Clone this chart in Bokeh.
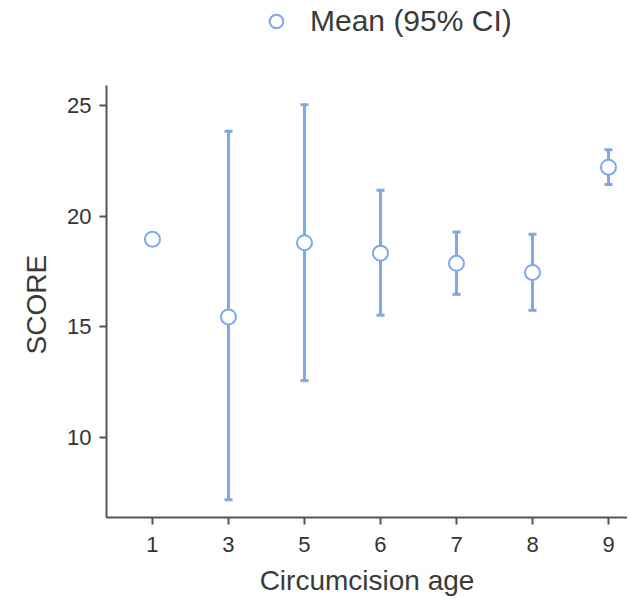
from bokeh.plotting import figure
from bokeh.models import (ColumnDataSource, Whisker, TeeHead, Range1d, FixedTicker,
                          Legend, LegendItem, Title)
from bokeh.embed import file_html
from bokeh.resources import INLINE

# ---- data ----
ages = ["1", "3", "5", "6", "7", "8", "9"]
means = [18.96, 15.45, 18.8, 18.33, 17.87, 17.46, 22.21]
lower = [None, 7.2, 12.58, 15.53, 16.47, 15.75, 21.43]
upper = [None, 23.83, 25.03, 21.17, 19.28, 19.18, 22.99]
y_ticks = [10, 15, 20, 25]

BLUE = "#7ea8ea"
TXT = "#333333"
AX = "#555555"
FONT = "Liberation Sans"

xpos = list(range(len(ages)))

Y_LO, Y_AX_TOP, Y_TOP = 6.4, 25.9, 29.73

p = figure(width=627, height=598, output_backend="svg", toolbar_location=None,
           x_range=Range1d(-0.605, 6.25), y_range=Range1d(Y_LO, Y_TOP),
           min_border_left=106, min_border_right=0, min_border_top=0,
           min_border_bottom=80)
p.outline_line_color = None
p.xgrid.visible = False
p.ygrid.visible = False
p.background_fill_color = "white"
p.border_fill_color = "white"

# whiskers
wx, wl, wu = [], [], []
for i, (lo, up) in enumerate(zip(lower, upper)):
    if lo is not None and up is not None:
        wx.append(xpos[i]); wl.append(lo); wu.append(up)
wsrc = ColumnDataSource(dict(x=wx, lower=wl, upper=wu))
w = Whisker(base="x", lower="lower", upper="upper", source=wsrc,
            line_color=BLUE, line_width=3,
            upper_head=TeeHead(size=8, line_color=BLUE, line_width=3),
            lower_head=TeeHead(size=8, line_color=BLUE, line_width=3),
            level="underlay")
p.add_layout(w)

src = ColumnDataSource(dict(x=xpos, y=means))
r = p.scatter("x", "y", source=src, size=15, marker="circle",
              fill_color="white", line_color=BLUE, line_width=2)

# axes styling
for ax in (p.xaxis[0], p.yaxis[0]):
    ax.axis_line_color = AX
    ax.axis_line_width = 2
    ax.major_tick_line_color = AX
    ax.major_tick_line_width = 2
    ax.major_tick_out = 7
    ax.major_tick_in = 0
    ax.minor_tick_line_color = None
    ax.major_label_text_font = FONT
    ax.major_label_text_font_size = "22px"
    ax.major_label_text_color = TXT
    ax.axis_label_text_font = FONT
    ax.axis_label_text_font_size = "28px"
    ax.axis_label_text_font_style = "normal"
    ax.axis_label_text_color = "#3a3a3a"

p.xaxis[0].ticker = FixedTicker(ticks=xpos)
p.xaxis[0].major_label_overrides = {i: a for i, a in zip(xpos, ages)}
p.xaxis[0].axis_label = "Circumcision age"
p.xaxis[0].major_label_standoff = 12
p.xaxis[0].axis_label_standoff = 10

p.yaxis[0].ticker = FixedTicker(ticks=y_ticks)
p.yaxis[0].bounds = (Y_LO, Y_AX_TOP)
p.yaxis[0].major_label_standoff = 8

ytitle = Title(text="SCORE", align="left", offset=163, standoff=26,
               text_font=FONT, text_font_size="28px", text_font_style="normal",
               text_color="#3a3a3a")
p.add_layout(ytitle, "left")

legend = Legend(items=[LegendItem(label="Mean (95% CI)", renderers=[r])],
                location=(153, 478), orientation="horizontal",
                border_line_color=None, background_fill_alpha=0,
                padding=0, margin=0, spacing=0,
                glyph_width=34, glyph_height=36, label_standoff=17,
                label_text_font=FONT, label_text_font_size="30px",
                label_text_color="#3a3a3a")
p.add_layout(legend)

open("out.html", "w").write(file_html(p, INLINE))
